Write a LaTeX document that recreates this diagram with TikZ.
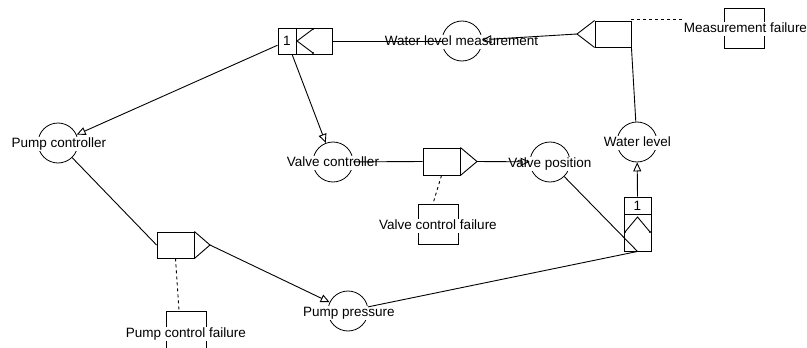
\documentclass[tikz,border=0pt]{standalone}
\usepackage{fontspec}
\setmainfont{Liberation Sans}
\usetikzlibrary{arrows.meta}
\begin{document}
\begin{tikzpicture}[x=1pt,y=-1pt,
  proc/.style={circle,draw,minimum size=40pt,inner sep=0pt,line width=0.8pt},
  lbl/.style={fill=white,inner sep=0.6pt,font=\fontsize{13.5}{15}\selectfont,text height=9.8pt,text depth=2.8pt},
  gatebox/.style={draw,rectangle,inner sep=0pt,line width=0.9pt,font=\fontsize{13.5}{15}\selectfont},
  failbox/.style={draw,rectangle,minimum width=40pt,minimum height=40pt,inner sep=0pt,line width=0.9pt},
  conn/.style={line width=0.9pt},
  arr/.style={conn,-{Triangle[open,length=9pt,width=8pt]}},
  fail/.style={line width=0.9pt,dash pattern=on 3pt off 3pt},
  gateline/.style={line width=0.9pt},
  dotend/.style={fill,circle,inner sep=0pt,minimum size=2.2pt}
]
\useasboundingbox (0,0) rectangle (807,348);
\clip (0,0) rectangle (807,348);

% processes (circles)
\node[proc] (wlm) at (462,41) {};
\node[proc] (pc) at (58,143) {};
\node[proc] (vc) at (333,162) {};
\node[proc] (vp) at (550,162) {};
\node[proc] (wl) at (637,142) {};
\node[proc] (pp) at (348,311) {};

% failure boxes
\node[failbox] (mfb) at (744,28) {};
\node[failbox] (vfb) at (438,224) {};
\node[failbox] (pfb) at (186,331) {};

% gates
\node[gatebox,minimum width=18pt,minimum height=26pt] (g1one) at (287,41) {1};
\node[gatebox,minimum width=36pt,minimum height=26pt] (g1split) at (314,41) {};
\draw[gateline] (313,29) -- (297,41) -- (313,53);
\node[dotend] at (313,29) {};
\node[dotend] at (313,53) {};

\node[gatebox,minimum width=36pt,minimum height=26pt] (sg) at (613,34) {};
\draw[gateline] (sg.north west) -- (577,34) coordinate (sgtip) -- (sg.south west);

\node[gatebox,minimum width=27pt,minimum height=17pt] (bgone) at (637.5,205.5) {1};
\node[gatebox,minimum width=27pt,minimum height=37pt] (bgjoin) at (637.5,232.5) {};
\draw[gateline] (625,232) -- (637.5,217) -- (650,232);
\node[dotend] at (625,232) {};
\node[dotend] at (650,232) {};

\node[gatebox,minimum width=37pt,minimum height=26pt] (pg) at (175.5,245) {};
\draw[gateline] (pg.north east) -- (210,245) coordinate (pgtip) -- (pg.south east);

\node[gatebox,minimum width=37pt,minimum height=27pt] (vg) at (441.5,161.5) {};
\draw[gateline] (vg.north east) -- (477,161.5) coordinate (vgtip) -- (vg.south east);

% labels
\node[lbl] (wlmt) at (461.5,42) {Water level measurement};
\node[lbl] (mft) at (745.5,29) {Measurement failure};
\node[lbl] (pct) at (59,144) {Pump controller};
\node[lbl] (vct) at (333,163) {Valve controller};
\node[lbl] (vpt) at (550,164) {Valve position};
\node[lbl] (wlt) at (637.5,143) {Water level};
\node[lbl] (vft) at (438,226) {Valve control failure};
\node[lbl] (ppt) at (349,313) {Pump pressure};
\node[lbl] (pft) at (186,334) {Pump control failure};

% connectors
\draw[conn] (g1split.east) -- (wlm);
\draw[arr] (sgtip) -- (wlm);
\draw[conn] (wl) -- (sg.south east);
\draw[arr] (g1one) -- (pc);
\draw[arr] (g1one) -- (vc);
\draw[conn] (vc) -- (vg.west);
\draw[arr] (vgtip) -- (vp);
\draw[conn] (vp) -- (bgjoin.south);
\draw[conn] (pp) -- (bgjoin.south);
\draw[arr] (bgone.north) -- (wl);
\draw[conn] (pc) -- (pg.west);
\draw[arr] (pgtip) -- (pp);

% failure links
\draw[fail] ([yshift=1pt]sg.north east) -- ([yshift=1pt]sg.north east -| mft.west);
\draw[fail] (pg.south) -- ([xshift=-7pt]pfb.north);
\draw[fail] (vg.south) -- ([xshift=-5pt]vfb.north);
\end{tikzpicture}
\end{document}
